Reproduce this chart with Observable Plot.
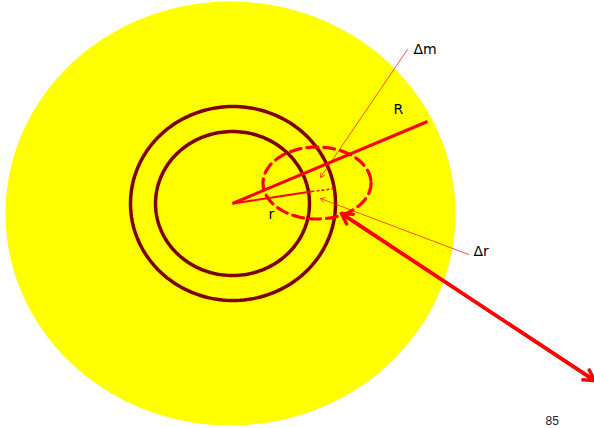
<!DOCTYPE html>
<html>
<head>
<meta charset="utf-8">
<script src="https://cdn.jsdelivr.net/npm/d3@7"></script>
<script src="https://cdn.jsdelivr.net/npm/@observablehq/plot@0.6"></script>
<style>
  html, body { margin: 0; padding: 0; background: #fff; }
  #chart svg { display: block; }
</style>
</head>
<body>
<div id="chart"></div>
<script>
// Ellipses (slide coordinates, px): name, centre, radii
const ellipseNames = ["disk", "outerRing", "innerRing", "shell"];
const ellipseCx = [230, 232.5, 232, 316.5];
const ellipseCy = [213, 203, 203, 182.5];
const ellipseRx = [225, 102.5, 77, 54];
const ellipseRy = [212, 97, 72, 36];

// Segments: from (x1,y1) to (x2,y2)
const segNames = ["R", "r", "rDotted", "dmPointer", "drPointer", "force"];
const segX1 = [232, 232, 311, 407, 468, 341];
const segY1 = [203, 203, 191, 49, 254, 213];
const segX2 = [427, 311, 335, 320, 320, 594];
const segY2 = [121, 191, 188, 177, 198, 380];

// Labels
const labelText = ["\u0394m", "R", "r", "\u0394r", "85"];
const labelX = [413, 393, 268, 473, 545];
const labelY = [53, 113, 218, 255, 424];

const W = 594, H = 428;

function outline(i) {
  return d3.range(0, 361, 2).map(a => {
    const t = a * Math.PI / 180;
    return {x: ellipseCx[i] + ellipseRx[i] * Math.cos(t), y: ellipseCy[i] + ellipseRy[i] * Math.sin(t)};
  });
}
const seg = i => [{x1: segX1[i], y1: segY1[i], x2: segX2[i], y2: segY2[i]}];
const labels = labelText.map((t, i) => ({t, x: labelX[i], y: labelY[i]}));

const chart = Plot.plot({
  width: W,
  height: H,
  margin: 0,
  x: {domain: [0, W], range: [0, W], axis: null},
  y: {domain: [0, H], range: [0, H], axis: null},
  marks: [
    Plot.line(outline(0), {x: "x", y: "y", fill: "#ffff00", stroke: "none", curve: "linear-closed"}),
    Plot.line(outline(1), {x: "x", y: "y", stroke: "#7f0000", strokeWidth: 3.5, curve: "linear-closed"}),
    Plot.line(outline(2), {x: "x", y: "y", stroke: "#7f0000", strokeWidth: 3.5, curve: "linear-closed"}),
    Plot.line(outline(3), {x: "x", y: "y", stroke: "#ff0000", strokeWidth: 3.2, strokeDasharray: "11,6", curve: "linear-closed"}),
    Plot.link(seg(0), {x1: "x1", y1: "y1", x2: "x2", y2: "y2", stroke: "#ff0000", strokeWidth: 3}),
    Plot.link(seg(1), {x1: "x1", y1: "y1", x2: "x2", y2: "y2", stroke: "#ff0000", strokeWidth: 2}),
    Plot.link(seg(2), {x1: "x1", y1: "y1", x2: "x2", y2: "y2", stroke: "#ff0000", strokeWidth: 1.5, strokeDasharray: "3,2"}),
    Plot.arrow(seg(3), {x1: "x1", y1: "y1", x2: "x2", y2: "y2", stroke: "#ff0000", strokeWidth: 0.7, headLength: 10}),
    Plot.arrow(seg(4), {x1: "x1", y1: "y1", x2: "x2", y2: "y2", stroke: "#ff0000", strokeWidth: 0.7, headLength: 10}),
    Plot.arrow(seg(5), {x1: "x1", y1: "y1", x2: "x2", y2: "y2", stroke: "#ff0000", strokeWidth: 3.5, headLength: 5, inset: 0}),
    Plot.arrow(seg(5), {x1: "x2", y1: "y2", x2: "x1", y2: "y1", stroke: "#ff0000", strokeWidth: 3.5, headLength: 5, inset: 0}),
    Plot.text(labels.slice(0, 4), {x: "x", y: "y", text: "t", textAnchor: "start", lineAnchor: "bottom", fontSize: 14, fill: "#000", fontFamily: "DejaVu Sans"}),
    Plot.text(labels.slice(4), {x: "x", y: "y", text: "t", textAnchor: "start", lineAnchor: "bottom", fontSize: 12, fill: "#222", fontFamily: "Liberation Sans, Arial, sans-serif"})
  ]
});
document.getElementById("chart").append(chart);
</script>
</body>
</html>
